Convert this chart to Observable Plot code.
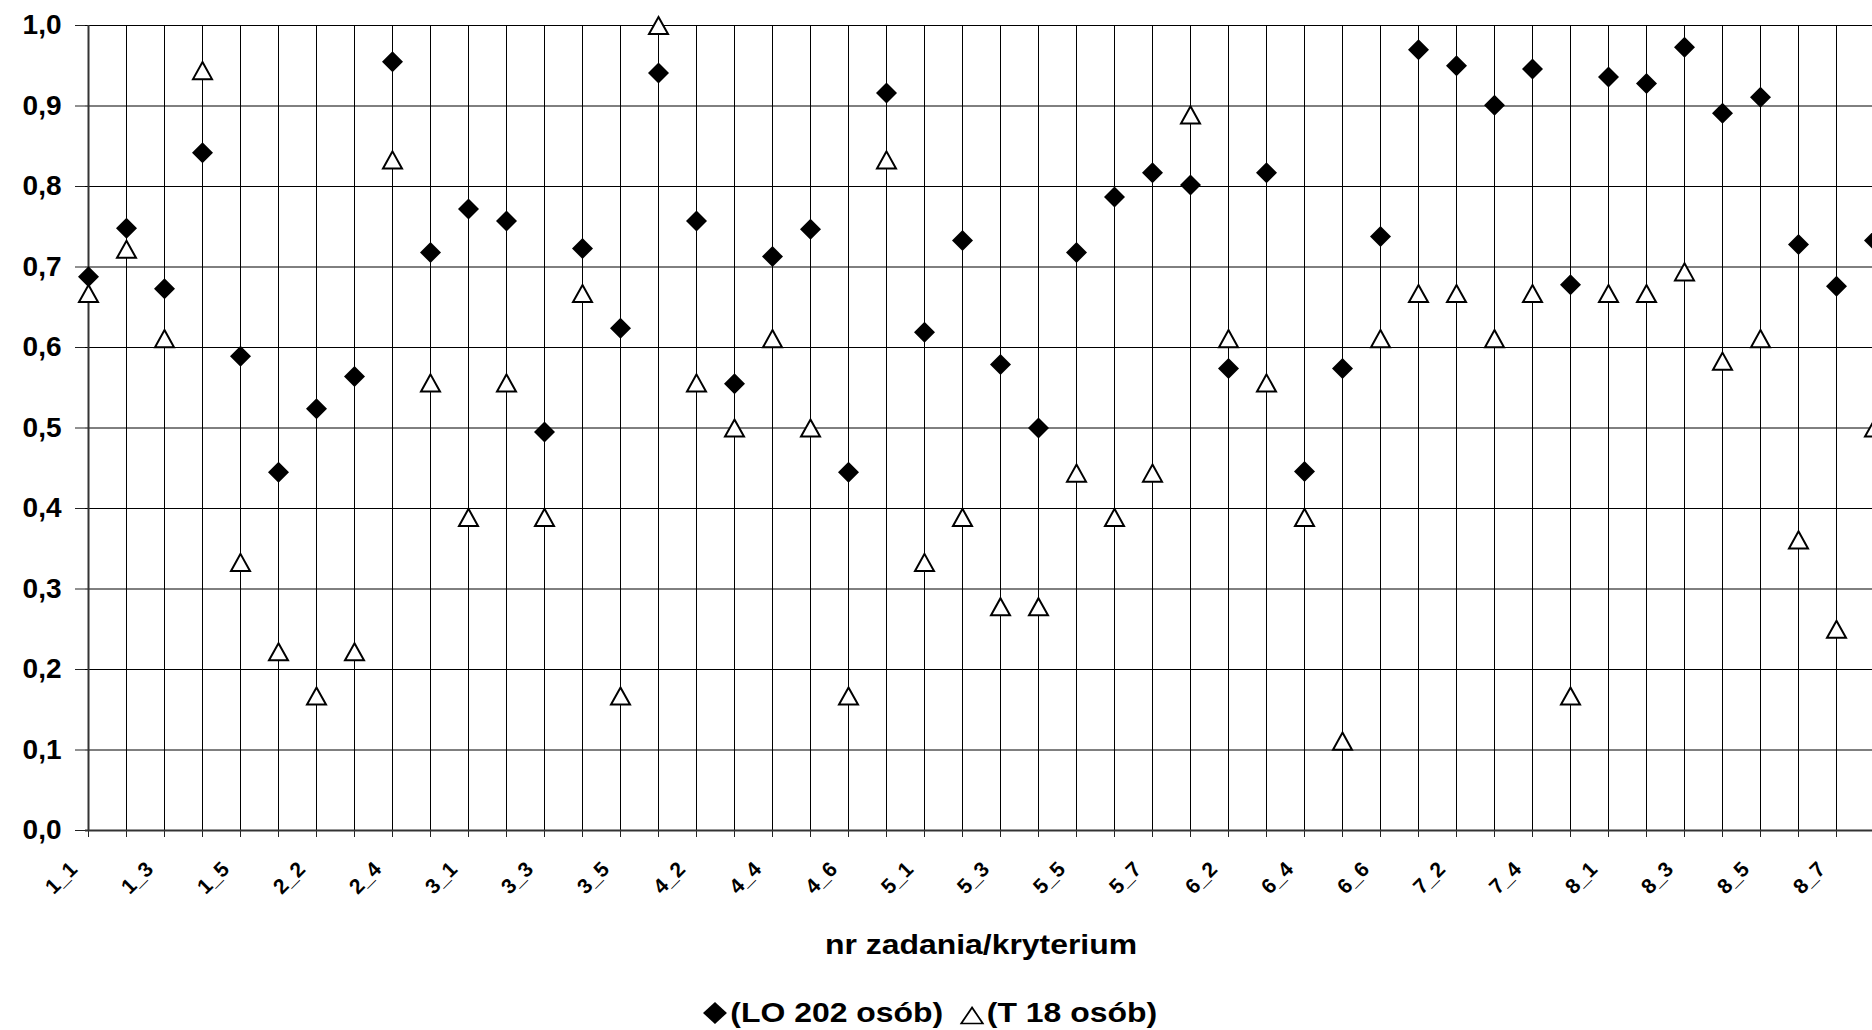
<!DOCTYPE html>
<html>
<head>
<meta charset="utf-8">
<script src="https://cdn.jsdelivr.net/npm/d3@7"></script>
<script src="https://cdn.jsdelivr.net/npm/@observablehq/plot@0.6"></script>
<style>
  html, body { margin: 0; padding: 0; overflow: hidden; background: #fff; }
  #wrap { position: relative; width: 1872px; height: 1030px; overflow: hidden; background: #fff;
          font-family: "Liberation Sans", Arial, sans-serif; font-weight: bold; color: #000; }
  #chart { position: absolute; left: 0; top: 0; width: 1900px; }
  #xtitle { position: absolute; left: 981px; top: 931px; font-size: 28px; line-height: 28px;
            white-space: nowrap; transform: translateX(-50%) scaleX(1.14); }
  #legend { position: absolute; left: 703px; top: 999px; width: 400px; height: 30px;
            transform-origin: 0 0; transform: scaleX(1.14); font-size: 28px; line-height: 28px; }
  #legend span, #legend svg { position: absolute; top: 0; white-space: nowrap; }
</style>
</head>
<body>
<div id="wrap">
  <div id="chart"></div>
  <div id="xtitle">nr zadania/kryterium</div>
  <div id="legend">
    <svg style="left:0;top:3px" width="21" height="22" viewBox="0 0 21 22"><polygon points="10.5,0 21,11 10.5,22 0,11" fill="#000"/></svg>
    <span style="left:24px">(LO 202 osób)</span>
    <svg style="left:225px;top:7px" width="22" height="19" viewBox="0 0 22 19"><polygon points="11,1.5 20.5,17.5 1.5,17.5" fill="#fff" stroke="#000" stroke-width="1.6"/></svg>
    <span style="left:249px">(T 18 osób)</span>
  </div>
</div>
<script>
const categories = ["1_1","1_2","1_3","1_4","1_5","2_1","2_2","2_3","2_4","2_5",
  "3_1","3_2","3_3","3_4","3_5","4_1","4_2","4_3","4_4","4_5","4_6","4_7",
  "5_1","5_2","5_3","5_4","5_5","5_6","5_7","6_1","6_2","6_3","6_4","6_5","6_6",
  "7_1","7_2","7_3","7_4","7_5","8_1","8_2","8_3","8_4","8_5","8_6","8_7","8_8"];

// (LO 202 osób)
const lo = [0.688,0.748,0.673,0.842,0.589,0.445,0.524,0.564,0.955,0.718,
  0.772,0.757,0.495,0.723,0.624,0.941,0.757,0.555,0.713,0.747,0.445,0.916,
  0.619,0.733,0.579,0.500,0.718,0.787,0.817,0.802,0.574,0.817,0.446,0.574,0.738,
  0.970,0.950,0.901,0.946,0.678,0.936,0.928,0.973,0.891,0.911,0.728,0.676,0.733];

// (T 18 osób)
const t = [0.667,0.722,0.611,0.944,0.333,0.222,0.167,0.222,0.833,0.556,
  0.389,0.556,0.389,0.667,0.167,1.000,0.556,0.500,0.611,0.500,0.167,0.833,
  0.333,0.389,0.278,0.278,0.444,0.389,0.444,0.889,0.611,0.556,0.389,0.111,0.611,
  0.667,0.667,0.611,0.667,0.167,0.667,0.667,0.694,0.583,0.611,0.361,0.250,0.500];

const yTicks = [0,0.1,0.2,0.3,0.4,0.5,0.6,0.7,0.8,0.9,1.0];
const labeledCategories = categories.filter((d, i) => i % 2 === 0);

const fmt = d => d.toFixed(1).replace(".", ",");
const rows = categories.map((c, i) => ({c, lo: lo[i], t: t[i]}));

const diamond = {draw(ctx, size) {
  const r = Math.sqrt(size / Math.PI);
  ctx.moveTo(0, -r); ctx.lineTo(r, 0); ctx.lineTo(0, r); ctx.lineTo(-r, 0); ctx.closePath();
}};
const triangle = {draw(ctx, size) {
  const r = Math.sqrt(size / Math.PI), h = 0.9 * r;
  ctx.moveTo(0, -h); ctx.lineTo(r, h); ctx.lineTo(-r, h); ctx.closePath();
}};

const plot = Plot.plot({
  width: 1900,
  height: 910,
  marginLeft: 85,
  marginRight: 23,
  marginTop: 25,
  marginBottom: 80,
  style: {fontFamily: '"Liberation Sans", Arial, sans-serif', background: "white", color: "black", maxWidth: "none", overflow: "visible"},
  x: {type: "point", domain: categories, padding: 0},
  y: {domain: [0, 1]},
  marks: [
    Plot.ruleX(categories, {stroke: "#000", strokeWidth: 1}),
    Plot.ruleY(yTicks, {stroke: "#000", strokeWidth: 1}),
    Plot.axisX({ticks: categories, tickSize: 7, tickFormat: () => "", label: null, stroke: "#222"}),
    Plot.axisY({ticks: yTicks, tickSize: 10, tickFormat: () => "", label: null, stroke: "#222"}),
    Plot.ruleY([0], {stroke: "#333", strokeWidth: 2}),
    Plot.ruleX([categories[0]], {stroke: "#333", strokeWidth: 2}),
    Plot.dot(rows, {x: "c", y: "lo", symbol: diamond, r: 10.5, fill: "#000", stroke: null}),
    Plot.dot(rows, {x: "c", y: "t", symbol: triangle, r: 9.5, fill: "#fff", stroke: "#000", strokeWidth: 2}),
    Plot.text(labeledCategories, {x: d => d, frameAnchor: "bottom", rotate: -45, textAnchor: "end",
      lineAnchor: "bottom", dx: -10, dy: 40, fontSize: 21, fontWeight: "bold", fill: "#000"}),
    Plot.text(yTicks, {y: d => d, text: fmt, frameAnchor: "left", textAnchor: "end",
      dx: -24, fontSize: 28, fontWeight: "bold", fill: "#000", ariaLabel: "ylabels"})
  ]
});

document.getElementById("chart").appendChild(plot);
plot.querySelectorAll('g[aria-label="ylabels"] text').forEach(el => {
  el.setAttribute("textLength", 45);
  el.setAttribute("lengthAdjust", "spacingAndGlyphs");
});
</script>
</body>
</html>
